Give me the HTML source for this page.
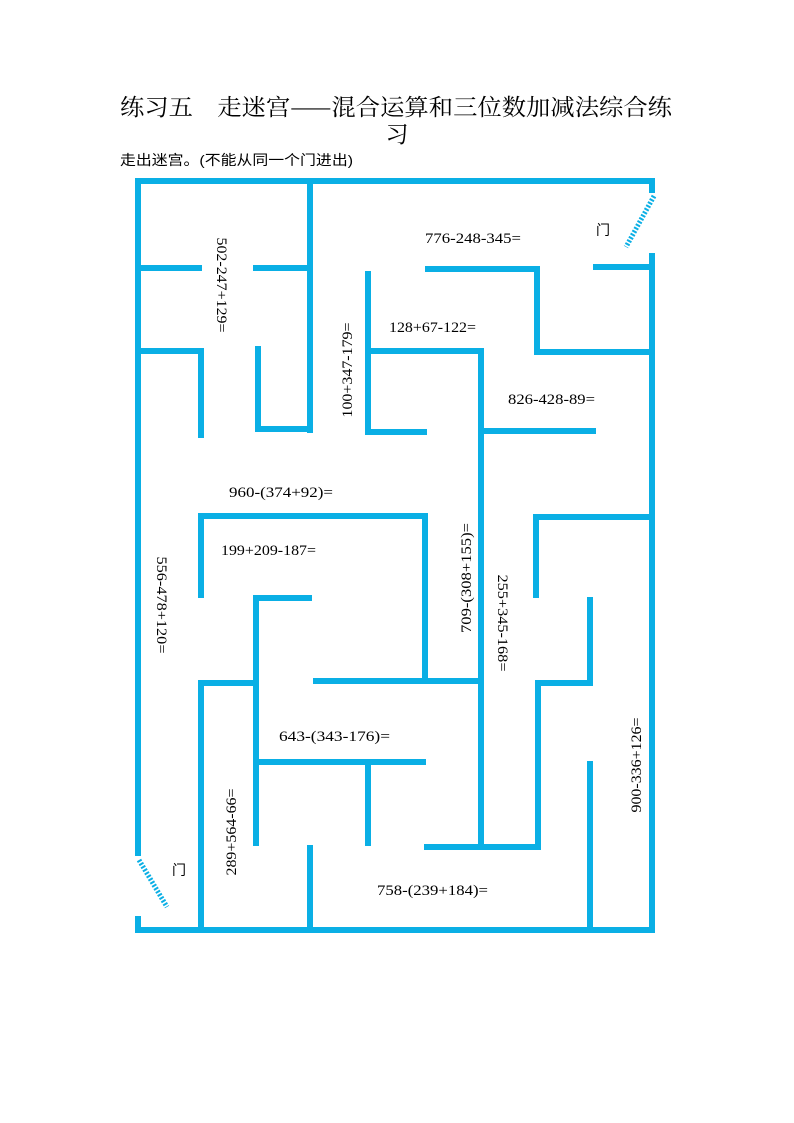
<!DOCTYPE html>
<html><head><meta charset="utf-8"><style>
html,body{margin:0;padding:0;background:#fff;}
svg{display:block;}
</style></head><body>
<svg width="794" height="1123" viewBox="0 0 794 1123" xmlns="http://www.w3.org/2000/svg">
<g font-family="'Noto Serif CJK SC','Liberation Serif',serif" fill="#000">
<text x="120" y="115" font-size="23" textLength="552" lengthAdjust="spacingAndGlyphs">练习五　走迷宫——混合运算和三位数加减法综合练</text>
<text x="397" y="142" font-size="23" text-anchor="middle">习</text>
</g>
<text x="120" y="165" font-size="14" font-family="'Liberation Sans','Noto Sans CJK SC',sans-serif" textLength="233" lengthAdjust="spacingAndGlyphs">走出迷宫。(不能从同一个门进出)</text>

<g stroke="#0aafe5" stroke-width="6" stroke-linecap="square" fill="none">
<polyline points="138,853 138,181 652,181 652,190"/>
<line x1="652" y1="256" x2="652" y2="930"/>
<polyline points="138,919 138,930 652,930"/>
<line x1="310" y1="181" x2="310" y2="430"/>
<line x1="138" y1="268" x2="199" y2="268"/>
<line x1="256" y1="268" x2="310" y2="268"/>
<polyline points="138,351 201,351 201,435"/>
<polyline points="258,349 258,429 310,429"/>
<polyline points="424,432 368,432 368,274"/>
<polyline points="368,351 481,351 481,847"/>
<polyline points="428,269 537,269 537,352 652,352"/>
<line x1="596" y1="267" x2="652" y2="267"/>
<line x1="481" y1="431" x2="593" y2="431"/>
<polyline points="201,595 201,516 425,516 425,681"/>
<line x1="316" y1="681" x2="481" y2="681"/>
<polyline points="536,595 536,517 652,517"/>
<polyline points="309,598 256,598 256,843"/>
<polyline points="256,683 201,683 201,930"/>
<line x1="256" y1="762" x2="423" y2="762"/>
<line x1="368" y1="762" x2="368" y2="843"/>
<line x1="310" y1="848" x2="310" y2="930"/>
<polyline points="427,847 538,847 538,683 590,683 590,600"/>
<line x1="590" y1="764" x2="590" y2="930"/>
</g>
<line x1="654" y1="196" x2="626" y2="247" stroke="#0aafe5" stroke-width="5" stroke-dasharray="2 1.6"/>
<line x1="139" y1="860" x2="167" y2="907" stroke="#0aafe5" stroke-width="5" stroke-dasharray="2 1.6"/>

<g font-family="'Liberation Serif','Noto Serif CJK SC',serif" font-size="15" fill="#000" lengthAdjust="spacingAndGlyphs">
<text x="425" y="243" textLength="96" lengthAdjust="spacingAndGlyphs">776-248-345=</text>
<text x="596" y="235" font-family="'Noto Sans CJK SC',sans-serif" font-size="14">门</text>
<text x="389" y="332" textLength="87" lengthAdjust="spacingAndGlyphs">128+67-122=</text>
<text x="508" y="404" textLength="87" lengthAdjust="spacingAndGlyphs">826-428-89=</text>
<text x="229" y="497" textLength="104" lengthAdjust="spacingAndGlyphs">960-(374+92)=</text>
<text x="221" y="555" textLength="95" lengthAdjust="spacingAndGlyphs">199+209-187=</text>
<text x="279" y="741" textLength="111" lengthAdjust="spacingAndGlyphs">643-(343-176)=</text>
<text x="172" y="875" font-family="'Noto Sans CJK SC',sans-serif" font-size="14">门</text>
<text x="377" y="895" textLength="111" lengthAdjust="spacingAndGlyphs">758-(239+184)=</text>
<text transform="translate(217,285) rotate(90)" text-anchor="middle" textLength="95" lengthAdjust="spacingAndGlyphs">502-247+129=</text>
<text transform="translate(352,370) rotate(-90)" text-anchor="middle" textLength="95" lengthAdjust="spacingAndGlyphs">100+347-179=</text>
<text transform="translate(157,605) rotate(90)" text-anchor="middle" textLength="97" lengthAdjust="spacingAndGlyphs">556-478+120=</text>
<text transform="translate(471,578) rotate(-90)" text-anchor="middle" textLength="110" lengthAdjust="spacingAndGlyphs">709-(308+155)=</text>
<text transform="translate(498,623) rotate(90)" text-anchor="middle" textLength="97" lengthAdjust="spacingAndGlyphs">255+345-168=</text>
<text transform="translate(236,832) rotate(-90)" text-anchor="middle" textLength="87" lengthAdjust="spacingAndGlyphs">289+564-66=</text>
<text transform="translate(641,765) rotate(-90)" text-anchor="middle" textLength="95" lengthAdjust="spacingAndGlyphs">900-336+126=</text>
</g>
</svg>
</body></html>
